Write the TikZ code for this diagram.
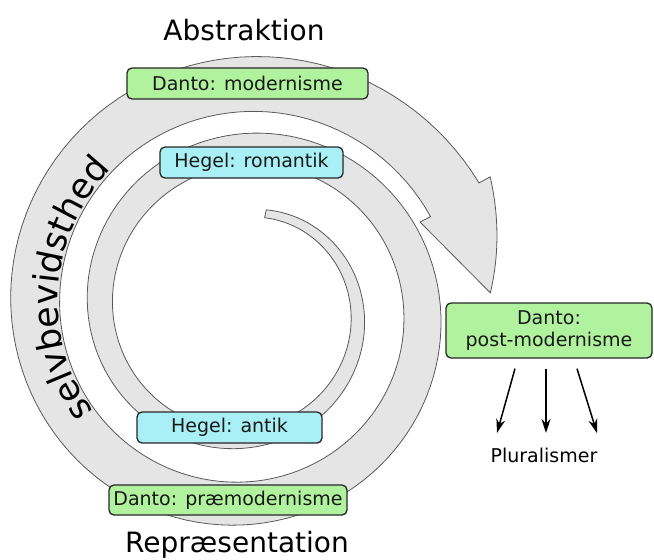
\documentclass[tikz,border=0pt]{standalone}
\usepackage{fontspec}
\setmainfont{DejaVu Sans}
\usepackage{tikz}
\usetikzlibrary{arrows.meta, decorations.text}
\usepackage{xcolor}
\definecolor{dantogreen}{RGB}{176,242,158}
\definecolor{hegelcyan}{RGB}{168,240,246}
\definecolor{bandgray}{RGB}{229,229,229}

\begin{document}
\begin{tikzpicture}[
    x=1pt,y=-1pt,
    >=Stealth,
    font=\fontsize{19}{22}\selectfont,
    band/.style={fill=bandgray,draw=black!65,line width=0.8pt},
    dantobox/.style={draw=black!85,fill=dantogreen,line width=1.3pt,rounded corners=5pt,
        minimum height=31pt,inner sep=0pt,text=black!90},
    hegelbox/.style={draw=black!85,fill=hegelcyan,line width=1.3pt,rounded corners=5pt,
        minimum height=31pt,inner sep=0pt,text=black!90},
    pole/.style={font=\fontsize{28}{32}\selectfont,anchor=base},
    spread/.style={->,line width=1.5pt,>={Stealth[length=14pt,width=9pt]}}
]
\useasboundingbox (0,0) rectangle (654,560);

% Spiral centre; radius of the outer edge grows by 0.213 per degree.
\def\cx{245}
\def\cy{310}

% Spiral band, from the thin tail in the middle out to the arrow head.
\filldraw[band]
    plot[domain=12:781.5,samples=260]
        ({\cx+(119+0.213*(\x-90))*sin(\x)},{\cy-(119+0.213*(\x-90))*cos(\x)})
    -- ({\cx+279*sin(781.5)},{\cy-279*cos(781.5)})
    -- plot[domain=781.5:806,samples=20]
        ({\cx+(279-1.35*(\x-781.5))*sin(\x)},{\cy-(279-1.35*(\x-781.5))*cos(\x)})
    -- (420,222)
    -- plot[domain=783.3:12,samples=260]
        ({\cx+(111+0.213*(\x-90)-0.066*(\x-12))*sin(\x)},{\cy-(111+0.213*(\x-90)-0.066*(\x-12))*cos(\x)})
    -- cycle;

% Label written along the outer turn.
\path[decorate,decoration={text along path,text align=center,
        text={|\fontsize{35}{40}\selectfont|selvbevidsthed}}]
    plot[domain=588:684,samples=60]
        ({\cx+(113+0.213*(\x-90)-0.066*(\x-12))*sin(\x)},{\cy-(113+0.213*(\x-90)-0.066*(\x-12))*cos(\x)});

% Stages placed on the turns.
\node[dantobox,minimum width=241pt] (modern) at (247.5,83.5) {Danto: modernisme};
\node[hegelbox,minimum width=183pt] (romantic) at (251.5,162.5) {Hegel: romantik};
\node[hegelbox,minimum width=185pt] (antique) at (229.5,427.5) {Hegel: antik};
\node[dantobox,minimum width=238pt,minimum height=30pt] (premodern) at (228,500) {Danto: præmodernisme};
\node[dantobox,minimum width=206pt,minimum height=55pt,align=center] (postmodern) at (549,330.5)
    {Danto:\\post-modernisme};

% Poles of the spiral.
\node[pole] (abstraction) at (244,40) {Abstraktion};
\node[pole] (representation) at (237,552) {Repræsentation};

% Post-modernism splits into several directions.
\node[anchor=base] (plural) at (544,462) {Pluralismer};
\coordinate (left) at (497,433);
\coordinate (mid) at (546,433);
\coordinate (right) at (597,433);
\draw[spread] ([shift={(-34,10)}]postmodern.south) -- (left);
\draw[spread] ([shift={(-3,10)}]postmodern.south) -- (mid);
\draw[spread] ([shift={(28,10)}]postmodern.south) -- (right);
\end{tikzpicture}
\end{document}
